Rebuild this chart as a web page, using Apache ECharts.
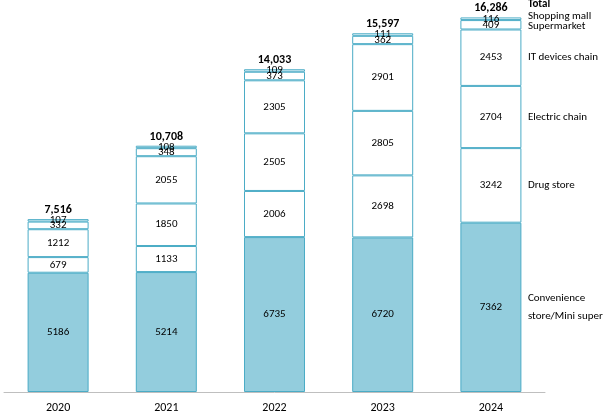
<!DOCTYPE html>
<html>
<head>
    <meta charset="UTF-8">
    <title>Stores by year</title>
    <script src="https://cdn.jsdelivr.net/npm/echarts@6/dist/echarts.min.js"></script>
    <style>
        html, body { margin: 0; padding: 0; background: #fff; }
        #container { width: 606px; height: 416px; }
    </style>
</head>
<body>
<div id="container"></div>
<script>
    var years = ['2020', '2021', '2022', '2023', '2024'];
    var seriesNames = ['Convenience\nstore/Mini super', 'Drug store', 'Electric chain', 'IT devices chain', 'Supermarket', 'Shopping mall'];
    var convenience = [5186, 5214, 6735, 6720, 7362];
    var drugStore = [679, 1133, 2006, 2698, 3242];
    var electricChain = [1212, 1850, 2505, 2805, 2704];
    var itDevices = ['-', 2055, 2305, 2901, 2453];
    var supermarket = [332, 348, 373, 362, 409];
    var shoppingMall = [107, 108, 109, 111, 116];
    var totals = [7516, 10708, 14033, 15597, 16286];

    var font = 'Calibri, Carlito, "Liberation Sans", sans-serif';
    var allData = [convenience, drugStore, electricChain, itDevices, supermarket, shoppingMall];

    var mycharts = echarts.init(document.getElementById('container'));

    var series = allData.map(function (vals, i) {
        return {
            name: seriesNames[i],
            type: 'bar',
            stack: 'all',
            barWidth: 61,
            data: vals,
            itemStyle: {
                color: i === 0 ? '#93CDDD' : '#ffffff',
                borderColor: '#4BACC6',
                borderWidth: 1
            },
            label: {
                show: true,
                position: 'inside',
                color: '#000',
                fontSize: 11,
                fontFamily: font
            }
        };
    });
    // 总计：零高度的柱子，只显示标签
    series.push({
        name: 'Total',
        type: 'bar',
        stack: 'all',
        barWidth: 61,
        data: totals.map(function () { return 0; }),
        itemStyle: { color: 'rgba(0,0,0,0)', borderWidth: 0 },
        label: {
            show: true,
            position: 'top',
            distance: 3,
            color: '#000',
            fontSize: 12,
            fontWeight: 'bold',
            fontFamily: font,
            formatter: function (p) { return totals[p.dataIndex].toLocaleString('en-US'); }
        }
    });

    var option = {
        animation: false,
        grid: { left: 4, right: 61, top: 1, bottom: 24 },
        xAxis: {
            type: 'category',
            data: years,
            axisLine: { lineStyle: { color: '#BFBFBF', width: 1 } },
            axisTick: { show: false },
            axisLabel: { color: '#000', fontSize: 12, fontFamily: font, margin: 10 }
        },
        yAxis: {
            type: 'value',
            min: 0,
            max: 17000,
            show: false,
            splitLine: { show: false }
        },
        series: series
    };
    mycharts.setOption(option);

    // 右侧系列名称，对齐到最后一根柱子
    var last = years.length - 1;
    var texts = [];
    var base = 0;
    var nudges = [0, 0, 0, 0, 1, -3];
    allData.forEach(function (vals, i) {
        var v = vals[last] === '-' ? 0 : vals[last];
        var pt = mycharts.convertToPixel({ xAxisIndex: 0, yAxisIndex: 0 }, [last, base + v / 2]);
        base += v;
        texts.push({
            type: 'text',
            x: pt[0] + 37,
            y: pt[1] + nudges[i],
            style: {
                text: seriesNames[i],
                fill: '#000',
                fontSize: 11,
                fontFamily: font,
                verticalAlign: 'middle',
                lineHeight: 18
            }
        });
    });
    var tp = mycharts.convertToPixel({ xAxisIndex: 0, yAxisIndex: 0 }, [last, base]);
    texts.push({
        type: 'text',
        x: tp[0] + 37,
        y: tp[1] - 13,
        style: { text: 'Total', fill: '#000', fontSize: 11, fontWeight: 'bold', fontFamily: font, verticalAlign: 'middle' }
    });
    mycharts.setOption({ graphic: texts });
</script>
</body>
</html>
